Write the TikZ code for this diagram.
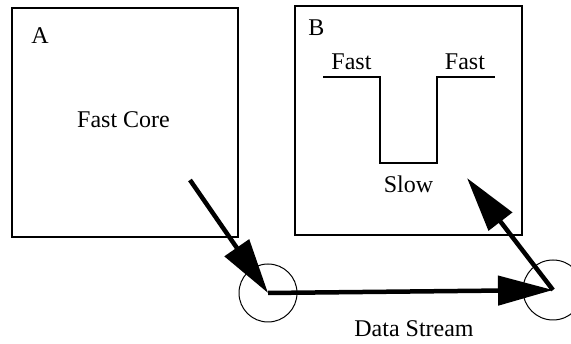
\documentclass[tikz,border=0pt]{standalone}
\usepackage{fontspec}
\setmainfont{Liberation Serif}
\usetikzlibrary{arrows.meta}
\begin{document}
\begin{tikzpicture}[x=1pt,y=-1pt,
  panel/.style={draw,line width=1.4pt,inner sep=0pt},
  lbl/.style={inner sep=0pt,anchor=base,font=\fontsize{24}{28}\selectfont},
  ring/.style={draw,circle,line width=1pt,inner sep=0pt},
  flow/.style={line width=4.5pt,-{Triangle[length=55pt,width=29pt]}}]
\useasboundingbox (0,0) rectangle (571,344);
\node[panel,minimum width=226pt,minimum height=229pt] (boxA) at (125,122.5) {};
\node[panel,minimum width=227pt,minimum height=229pt] (boxB) at (408.5,120.5) {};
\node[lbl] (labA) at (40,44) {A};
\node[lbl] (core) at (123.5,128) {Fast Core};
\node[lbl] (labB) at (316.5,36) {B};
\node[lbl] (fastL) at (351.5,70) {Fast};
\node[lbl] (fastR) at (465,70) {Fast};
\node[lbl] (slow) at (408.5,193) {Slow};
\node[lbl] (data) at (414,337) {Data Stream};
\draw[line width=1.3pt] (323,77) -- (380,77) -- (380,163) -- (437,163) -- (437,77) -- (495,77);
\node[ring,minimum size=58pt] (c1) at (268,293) {};
\node[ring,minimum size=60pt] (c2) at (553,290) {};
\coordinate (s1) at (190,180);
\coordinate (t2) at (467,178);
\draw[flow] (s1) -- (c1.center);
\draw[flow] (c1.center) -- (c2.center);
\draw[flow] (c2.center) -- (t2);
\end{tikzpicture}
\end{document}
